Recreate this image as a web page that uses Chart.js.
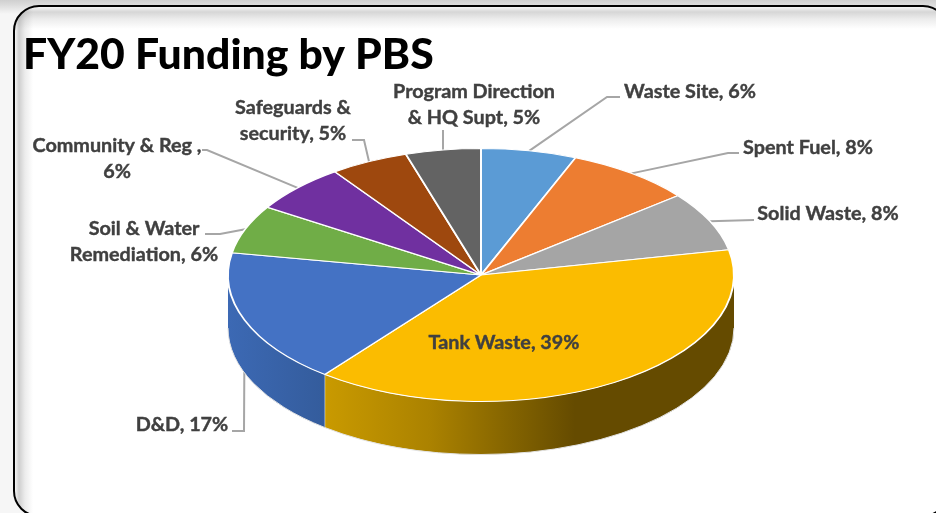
<!DOCTYPE html>
<html>
<head>
    <meta name="viewport" content="width=device-width, initial-scale=1">
    <script src="https://cdn.jsdelivr.net/npm/chart.js"></script>
    <title>FY20 Funding by PBS</title>
    <style>
        html, body { margin: 0; padding: 0; width: 936px; height: 513px; overflow: hidden;
                     background: linear-gradient(#cfcfcf 0, #dcdcdc 5px, #f6f6f6 14px); }
        #frame { position: absolute; left: 13px; top: 5px; width: 932px; height: 508px;
                 border: 2px solid #000; border-radius: 26px;
                 background-color: #fff;
                 background-image: linear-gradient(to bottom, #f4f4f4 0, #d6d6d6 5px, #ececec 12px, #fff 22px),
                                   linear-gradient(to right, #f4f4f4 0, #cfcfcf 4px, #ececec 10px, #fff 18px);
                 background-blend-mode: multiply; }
        canvas { position: absolute; left: 0; top: 0; }
    </style>
</head>
<body>
<div id="frame"></div>
<canvas id="pbsChart" width="936" height="513"></canvas>

<script>
    var titleText = 'FY20 Funding by PBS';
    var categories = ['Waste Site', 'Spent Fuel', 'Solid Waste', 'Tank Waste', 'D&D',
                      'Soil & Water Remediation', 'Community & Reg ', 'Safeguards & security', 'Program Direction & HQ Supt'];
    var values = [6.1, 8.1, 7.6, 38.8, 17.2, 6.2, 6.2, 5.0, 4.8];
    var colors = ['#5B9BD5', '#ED7D31', '#A5A5A5', '#FBBC00', '#4472C4', '#70AD47', '#7030A0', '#9E480E', '#636363'];

    // where each text label breaks, and where it sits
    var labelBreaks = [null, null, null, null, null, 'Soil & Water', 'Community & Reg ,', 'Safeguards &', 'Program Direction'];
    var labelX = [690, 808, 828, 504, 182, 144, 117, 293, 474];
    var labelY = [92, 148, 214, 343, 425, 229, 146, 108, 92];
    var leaders = [
        [[607, 97], [620, 97]],
        [[728, 153], [739, 153]],
        [[754, 220]],
        null,
        [[244, 431], [232, 431]],
        [[220, 234], [205, 234]],
        [[207, 150], [202, 150]],
        [[364, 140], [352, 140]],
        [[443, 130]]
    ];

    var centerX = 481, centerY = 275, radiusX = 253, squash = 0.5, depth = 53;

    var sideStops = {
        3: [[325, '#C99A00'], [430, '#AB8200'], [520, '#7F6000'], [575, '#654B00'], [734, '#654B00']],
        4: [[228, '#3C69B4'], [325, '#345C9C']]
    };

    function rimX(angle) { return centerX + radiusX * Math.cos(angle); }
    function rimY(angle) { return centerY + radiusX * squash * Math.sin(angle); }

    var tiltPlugin = {
        id: 'tilt',
        beforeDatasetsDraw: function(chart) {
            var ctx = chart.ctx;
            var arcs = chart.getDatasetMeta(0).data;

            // leader lines go under the side wall so D&D hides behind it
            ctx.save();
            ctx.strokeStyle = '#A6A6A6';
            ctx.lineWidth = 2;
            arcs.forEach(function(arc, i) {
                if (!leaders[i]) return;
                var mid = (arc.startAngle + arc.endAngle) / 2;
                ctx.beginPath();
                ctx.moveTo(rimX(mid), rimY(mid));
                leaders[i].forEach(function(p) { ctx.lineTo(p[0], p[1]); });
                ctx.stroke();
            });
            ctx.restore();

            // side wall, only the part facing us
            arcs.forEach(function(arc, i) {
                var a = Math.max(arc.startAngle, 0), b = Math.min(arc.endAngle, Math.PI);
                if (b <= a) return;
                var grad = ctx.createLinearGradient(228, 0, 734, 0);
                (sideStops[i] || [[228, colors[i]], [734, colors[i]]]).forEach(function(s) {
                    grad.addColorStop((s[0] - 228) / 506, s[1]);
                });
                ctx.beginPath();
                ctx.ellipse(centerX, centerY, radiusX, radiusX * squash, 0, a, b);
                ctx.ellipse(centerX, centerY + depth, radiusX, radiusX * squash, 0, b, a, true);
                ctx.closePath();
                ctx.fillStyle = grad;
                ctx.fill();
                ctx.strokeStyle = '#E2E2E2';
                ctx.lineWidth = 1;
                ctx.beginPath();
                ctx.ellipse(centerX, centerY + depth, radiusX, radiusX * squash, 0, a, b);
                ctx.stroke();
                if (arc.endAngle < Math.PI) {
                    ctx.strokeStyle = '#FFFFFF';
                    ctx.beginPath();
                    ctx.moveTo(rimX(b), rimY(b));
                    ctx.lineTo(rimX(b), rimY(b) + depth);
                    ctx.stroke();
                }
            });
        },
        beforeDatasetDraw: function(chart) {
            var ctx = chart.ctx;
            var arc = chart.getDatasetMeta(0).data[0];
            ctx.save();
            ctx.translate(centerX, centerY);
            ctx.scale(1, squash);
            ctx.translate(-arc.x, -arc.y);
        },
        afterDatasetDraw: function(chart) {
            chart.ctx.restore();
        },
        afterDraw: function(chart) {
            var ctx = chart.ctx;
            ctx.save();
            ctx.font = 'bold 19.8px Lato';
            ctx.fillStyle = '#404040';
            ctx.strokeStyle = '#404040';
            ctx.lineWidth = 0.4;
            ctx.textAlign = 'center';
            ctx.textBaseline = 'middle';
            function put(text, x, y) {
                ctx.fillText(text, x, y);
                ctx.strokeText(text, x, y);
            }
            categories.forEach(function(name, i) {
                var pct = Math.round(values[i]) + '%';
                if (labelBreaks[i]) {
                    var second = i == 6 ? pct : name.slice(labelBreaks[i].length).trim() + ', ' + pct;
                    put(labelBreaks[i], labelX[i], labelY[i]);
                    put(second, labelX[i], labelY[i] + 26);
                } else {
                    put(name + ', ' + pct, labelX[i], labelY[i]);
                }
            });
            ctx.restore();
        }
    };

    new Chart(document.getElementById('pbsChart'), {
        type: 'pie',
        data: {
            labels: categories,
            datasets: [{
                data: values,
                backgroundColor: colors,
                borderColor: '#FFFFFF',
                borderWidth: 2,
                clip: false
            }]
        },
        options: {
            responsive: false,
            animation: false,
            radius: radiusX,
            layout: { padding: { left: 23 } },
            plugins: {
                legend: { display: false },
                tooltip: { enabled: false },
                title: {
                    display: true,
                    text: titleText,
                    align: 'start',
                    color: '#000000',
                    font: { family: 'Lato', size: 42.7, weight: '900', lineHeight: 1.2 },
                    padding: { top: 30, bottom: 0 }
                }
            }
        },
        plugins: [tiltPlugin]
    });
</script>
</body>
</html>
